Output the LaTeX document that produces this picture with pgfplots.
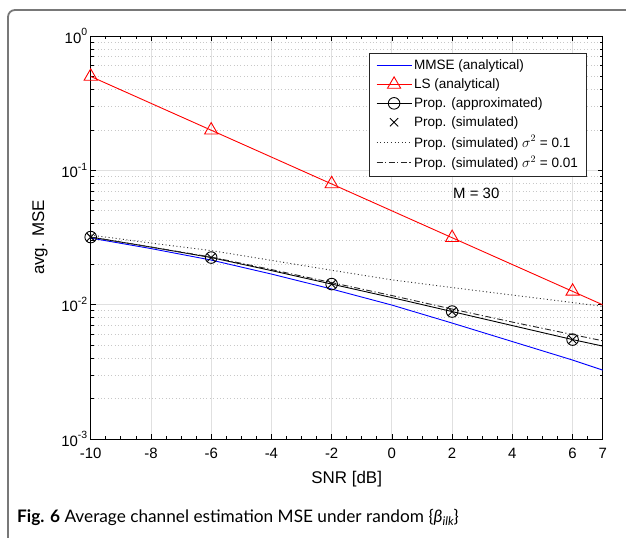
\documentclass[border=0pt]{standalone}
\usepackage{fontspec}
\setmainfont{Liberation Sans}
\newfontfamily\capfont{Lato}
\usepackage{pgfplots}
\pgfplotsset{compat=1.18}
\definecolor{framegray}{RGB}{120,120,120}
\definecolor{majgrid}{RGB}{224,224,224}
\definecolor{mingrid}{RGB}{200,200,200}
\newcommand{\spx}[1]{\raisebox{7.5bp}{\fontsize{10.5}{12}\selectfont #1}}
\begin{document}
\begin{tikzpicture}[x=1bp,y=1bp]
\begin{axis}[
  at={(90.7bp,99bp)}, anchor=south west,
  width=512bp, height=403bp, scale only axis,
  xmin=-10, xmax=7, ymin=1e-3, ymax=1, ymode=log,
  xtick={-10,-8,-6,-4,-2,0,2,4,6,7},
  xticklabels={-10,-8,-6,-4,-2,0,2,4,6,7},
  minor xtick={-9.5,-9,...,6.5},
  ytick={0.001,0.01,0.1,1},
  minor ytick={0.002,0.003,0.004,0.005,0.006,0.007,0.008,0.009,0.02,0.03,0.04,0.05,0.06,0.07,0.08,0.09,0.2,0.3,0.4,0.5,0.6,0.7,0.8,0.9},
  yticklabels={10\spx{-3},10\spx{-2},10\spx{-1},10\spx{0}},
  xmajorgrids, ymajorgrids, yminorgrids,
  major grid style={majgrid, line width=0.8bp},
  minor grid style={mingrid, line width=0.7bp, dash pattern=on 0.8bp off 2.6bp},
  tick align=inside, xtick pos=both, ytick pos=both,
  major tick length=5bp, minor tick length=3bp,
  every tick/.style={black, line width=0.7bp},
  axis line style={black, line width=0.8bp},
  ticklabel style={font=\fontsize{15}{18}\selectfont},
  xticklabel style={yshift=-6bp},
  xlabel={SNR [dB]}, ylabel={avg. MSE},
  label style={font=\fontsize{17}{20}\selectfont},
  xlabel style={at={(axis description cs:0.5,-0.1005)}, anchor=center},
  ylabel style={at={(axis description cs:-0.099,0.5)}, anchor=center},
  legend style={at={(axis description cs:0.96875,0.9586)}, anchor=north east,
    font=\fontsize{13.6}{16}\selectfont, draw=black!85, fill=white,
    inner xsep=6.5bp, inner ysep=5bp, row sep=3.6bp,
    nodes={inner xsep=2bp, inner ysep=2bp}},
  legend cell align=left,
  legend image code/.code={\draw[#1, mark indices={2}] plot coordinates {(0bp,0bp) (17.5bp,0bp) (35bp,0bp)};},
]
\addplot[blue, line width=0.9bp] coordinates {
(-10,0.03131) (-8,0.02616) (-6,0.02148) (-4,0.01690) (-2,0.01307) (0,0.009931) (2,0.007295) (4,0.005312) (6,0.003870) (7,0.003258)};
\addlegendentry{MMSE (analytical)}
\addplot[red, line width=0.9bp, mark=triangle, mark size=7.6bp, mark indices={1,2,3,4,5}, mark options={solid}] coordinates {
(-10,0.5) (-6,0.199) (-2,0.0792) (2,0.0315) (6,0.01256) (7,0.00998)};
\addlegendentry{LS (analytical)}
\addplot[black, line width=0.9bp, mark=o, mark size=5.8bp, mark indices={1,3,5,7,9}] coordinates {
(-10,0.03185) (-8,0.02685) (-6,0.02242) (-4,0.01794) (-2,0.01423) (0,0.01129) (2,0.008885) (4,0.006988) (6,0.005496) (7,0.004917)};
\addlegendentry{Prop. (approximated)}
\addplot[black, only marks, mark=x, mark size=5.8bp, line width=0.9bp] coordinates {
(-10,0.03185) (-6,0.02242) (-2,0.01423) (2,0.008885) (6,0.005496)};
\addlegendentry{Prop. (simulated)}
\addplot[black!80, line width=0.9bp, dash pattern=on 1bp off 2.6bp] coordinates {
(-10,0.03298) (-8,0.02875) (-6,0.02527) (-4,0.02137) (-2,0.01804) (0,0.01530) (2,0.01341) (4,0.01179) (6,0.01037) (7,0.009712)};
\addlegendentry{Prop. (simulated) $\sigma^2$ = 0.1}
\addplot[black!85, line width=0.9bp, dash pattern=on 6bp off 2.5bp on 1.2bp off 2.5bp] coordinates {
(-10,0.03185) (-8,0.02685) (-6,0.02262) (-4,0.01825) (-2,0.01460) (0,0.01169) (2,0.009273) (4,0.007420) (6,0.005989) (7,0.005385)};
\addlegendentry{Prop. (simulated) $\sigma^2$ = 0.01}
\node[font=\fontsize{15}{18}\selectfont] at (axis description cs:0.7531,0.6097) {M = 30};
\end{axis}
\draw[framegray, line width=1.8bp, rounded corners=7bp] (8,-5) -- (8,528) -- (640,528);
\node[anchor=base west, inner sep=0pt, font=\capfont\fontsize{17.3}{20}\selectfont] at (17,15)
  {\textbf{Fig. 6} Average channel estimation MSE under random \{\textit{β}\raisebox{-3bp}{\fontsize{12}{12}\selectfont\itshape ilk}\}};
\pgfresetboundingbox
\useasboundingbox (0,0) rectangle (626,538);
\end{tikzpicture}
\end{document}
